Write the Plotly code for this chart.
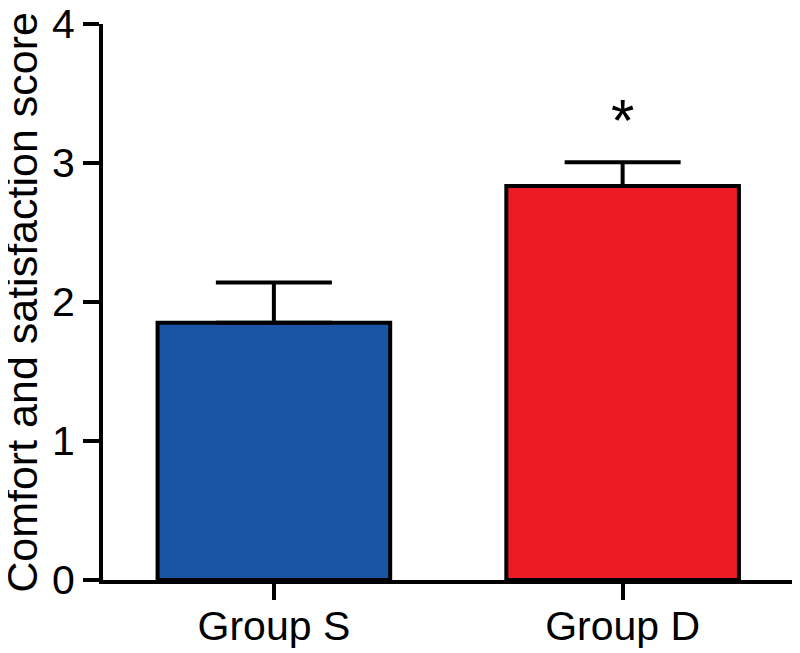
import plotly.graph_objects as go

groups = ["Group S", "Group D"]
scores = [1.85, 2.835]
sem = [0.29, 0.17]
bar_colors = ["#1A55A5", "#ED1C24"]
sig_marks = ["", "*"]
y_ticks = [0, 1, 2, 3, 4]
y_title = "Comfort and satisfaction score"

FONT = "Arial, Liberation Sans, sans-serif"

fig = go.Figure()
fig.add_trace(go.Bar(
    x=[0, 1], y=scores, width=0.667,
    marker=dict(color=bar_colors, line=dict(color="black", width=4)),
    error_y=dict(type="data", array=sem, arrayminus=[0, 0], visible=True,
                 color="black", thickness=4, width=58),
    showlegend=False,
))

# significance marker above each errorbar
for i, mark in enumerate(sig_marks):
    if mark:
        fig.add_annotation(x=i, y=scores[i] + sem[i], text=mark, showarrow=False,
                           yanchor="bottom", yshift=6,
                           font=dict(size=60, color="black", family=FONT))

# y title as a rotated annotation so it can sit closer to the page edge
fig.add_annotation(xref="paper", yref="paper", x=-0.117, y=0.5, text=y_title,
                   textangle=-90, showarrow=False, xanchor="center",
                   yanchor="middle",
                   font=dict(size=43, color="black", family=FONT))

fig.update_xaxes(
    range=[-0.49, 1.5], tickvals=[0, 1], ticktext=groups,
    showline=True, linecolor="black", linewidth=4,
    ticks="outside", ticklen=16, tickwidth=4, tickcolor="black",
    tickfont=dict(size=41, color="black", family=FONT),
    ticklabelstandoff=-9, ticklabeloverflow="allow",
    showgrid=False, zeroline=False,
)
fig.update_yaxes(
    range=[0, 4], tickvals=y_ticks,
    showline=True, linecolor="black", linewidth=4,
    ticks="outside", ticklen=16, tickwidth=4, tickcolor="black",
    tickfont=dict(size=41, color="black", family=FONT),
    ticklabeloverflow="allow",
    showgrid=False, zeroline=False,
)
# page body has an 8px margin, so the figure is 8px smaller on each side
fig.update_layout(
    width=792, height=645,
    paper_bgcolor="white", plot_bgcolor="white",
    margin=dict(l=95, r=3, t=16, b=73, autoexpand=False),
)
fig.write_html("out.html")
